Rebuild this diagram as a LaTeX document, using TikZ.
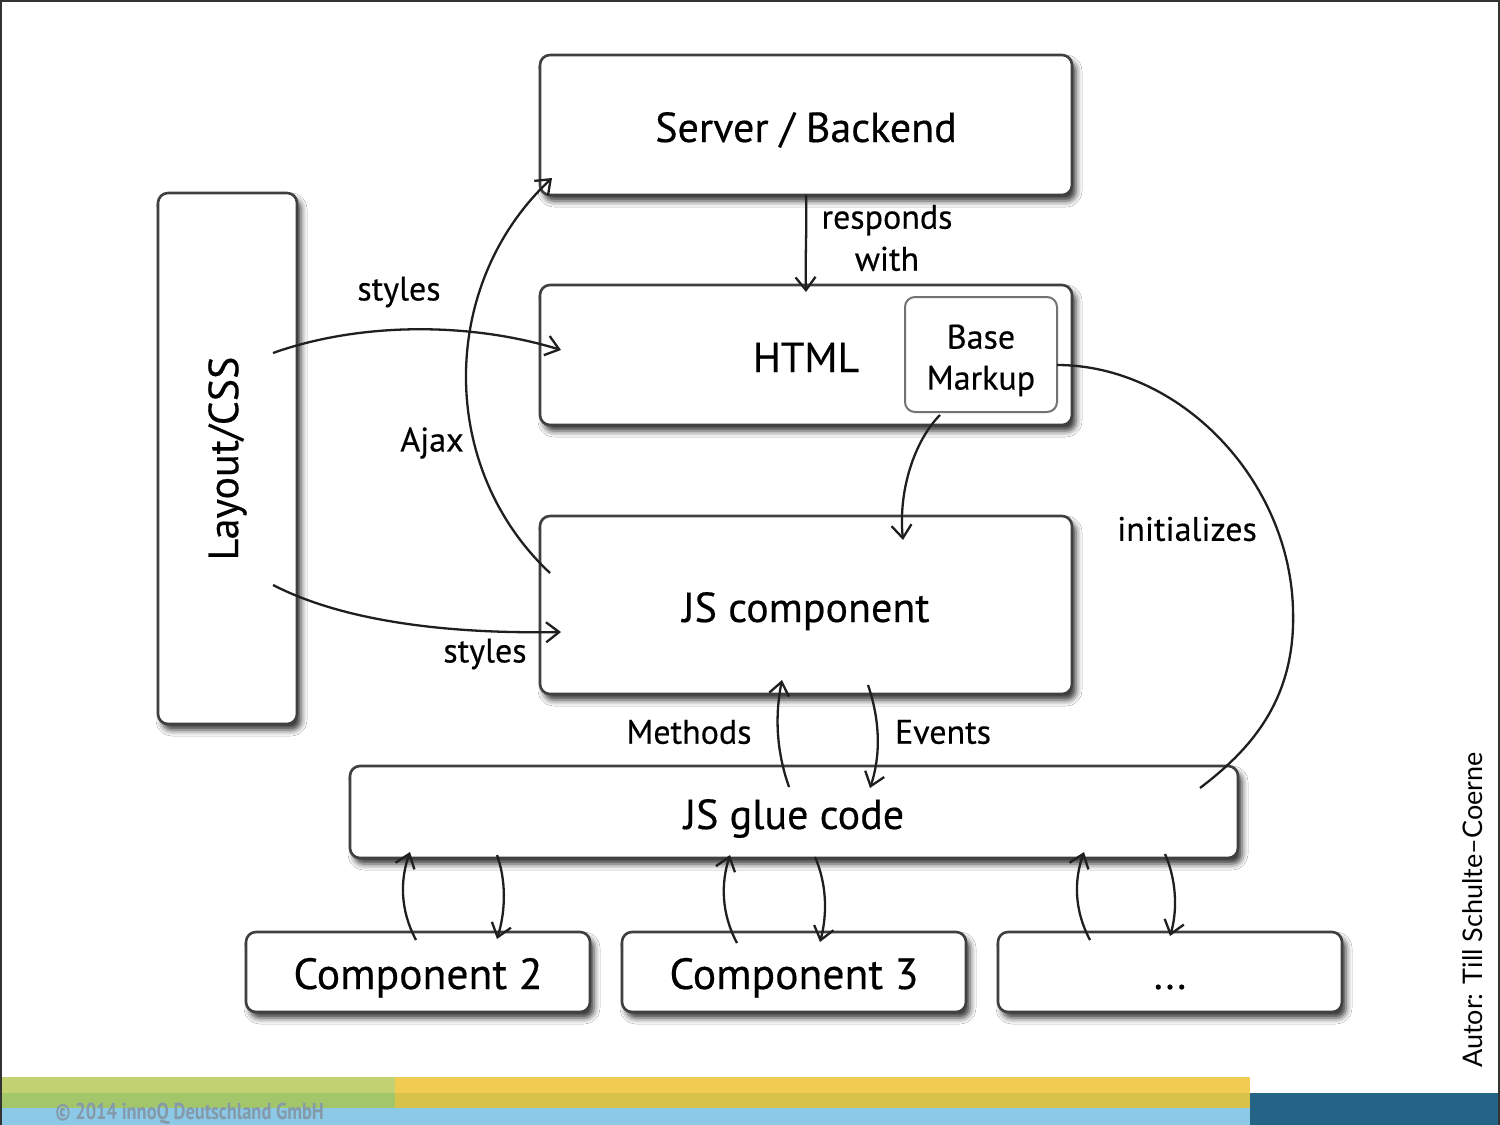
\documentclass[tikz,border=0pt]{standalone}
\usepackage{fontspec}
\setmainfont{PT Sans}[FakeBold=0.4]
\newfontfamily\authfont{Lato}
\newfontfamily\footfont[FakeStretch=0.8]{PT Sans}
\usetikzlibrary{arrows.meta,shadows.blur}
\definecolor{gtop}{HTML}{C2D273}
\definecolor{glow}{HTML}{A3C66B}
\definecolor{ytop}{HTML}{F0CD52}
\definecolor{ylow}{HTML}{D8C24A}
\definecolor{lblue}{HTML}{8CC9E6}
\definecolor{dblue}{HTML}{246486}
\definecolor{foot}{HTML}{8499AA}
\begin{document}
\begin{tikzpicture}[x=0.5pt,y=-0.5pt,
  box/.style={draw=black!75, line width=1.3pt, rounded corners=5pt, fill=white,
    blur shadow={shadow xshift=2pt, shadow yshift=-3pt, shadow blur radius=3pt, shadow opacity=80},
    inner sep=0pt, text height=19pt, text depth=2pt, font=\fontsize{21}{24}\selectfont},
  innerbox/.style={draw=black!55, line width=1pt, rounded corners=5pt, fill=white,
    inner sep=0pt, align=center, font=\fontsize{17}{20.5}\selectfont},
  lbl/.style={font=\fontsize{17}{21}\selectfont, inner sep=0pt, align=center},
  conn/.style={draw=black!88, line width=1.15pt, -{Straight Barb[length=6.5pt,width=10pt]}},
  plain/.style={draw=black!88, line width=1.15pt}]
\useasboundingbox (0,0) rectangle (1500,1125);
\fill[white] (0,0) rectangle (1500,1125);

% boxes
\node[box, minimum width=266pt, minimum height=70pt] (server) at (806,125) {Server / Backend};
\node[box, minimum width=266pt, minimum height=70pt] (html) at (806,355) {HTML};
\node[innerbox, minimum width=76pt, minimum height=57.5pt] (base) at (981,354.5) {\rule{0pt}{18pt}Base\\Markup};
\node[box, minimum width=266pt, minimum height=89pt] (jscomp) at (806,605) {JS component};
\node[box, minimum width=69.5pt, minimum height=265.5pt] (layout) at (227.5,458.5) {};
\node[rotate=90, font=\fontsize{21}{24}\selectfont, inner sep=0pt] (layouttext) at (layout.center) {Layout/CSS};
\node[box, minimum width=444pt, minimum height=46pt] (glue) at (794,812) {JS glue code};
\node[box, minimum width=172pt, minimum height=40pt, font=\fontsize{21.8}{24}\selectfont] (comp2) at (418,972) {Component 2};
\node[box, minimum width=172pt, minimum height=40pt, font=\fontsize{21.8}{24}\selectfont] (comp3) at (794,972) {Component 3};
\node[box, minimum width=172pt, minimum height=40pt] (dots) at (1170,972) {...};

% endpoints
\coordinate (rs) at (806,195);
\coordinate (re) at (806,292);
\coordinate (s1a) at (273,353);
\coordinate (s1b) at (561,350);
\coordinate (s2a) at (273,585);
\coordinate (s2b) at (561,632);
\coordinate (aja) at (550,573);
\coordinate (ajb) at (552,178);
\coordinate (bma) at (940,415);
\coordinate (bmb) at (903,540);
\coordinate (ina) at (1057,365);
\coordinate (inb) at (1200,788);
\coordinate (ma) at (789,787);
\coordinate (mb) at (782,680);
\coordinate (ea) at (868,685);
\coordinate (eb) at (870,788);

% connectors
\draw[conn] (rs) .. controls (807,230) and (805,260) .. (re);
\draw[conn] (s1a) .. controls (360,322) and (470,322) .. (s1b);
\draw[conn] (s2a) .. controls (345,622) and (450,634) .. (s2b);
\draw[conn] (aja) .. controls (437,467) and (439,284) .. (ajb);
\draw[conn] (bma) .. controls (915,440) and (898,490) .. (bmb);
\draw[plain] (ina) .. controls (1180,365) and (1290,480) .. (1293,610)
   .. controls (1296,700) and (1250,750) .. (inb);
\draw[conn] (ma) .. controls (776,750) and (775,715) .. (mb);
\draw[conn] (ea) .. controls (880,720) and (881,755) .. (eb);

% glue <-> components
\coordinate (c2ua) at (416,940); \coordinate (c2ub) at (410,852);
\coordinate (c2da) at (497,855); \coordinate (c2db) at (497,939);
\coordinate (c3ua) at (737,943); \coordinate (c3ub) at (730,855);
\coordinate (c3da) at (815,857); \coordinate (c3db) at (820,942);
\coordinate (c4ua) at (1090,940); \coordinate (c4ub) at (1084,852);
\coordinate (c4da) at (1165,854); \coordinate (c4db) at (1170,936);
\draw[conn] (c2ua) .. controls (400,910) and (400,880) .. (c2ub);
\draw[conn] (c2da) .. controls (506,880) and (506,910) .. (c2db);
\draw[conn] (c3ua) .. controls (721,913) and (721,883) .. (c3ub);
\draw[conn] (c3da) .. controls (826,882) and (828,912) .. (c3db);
\draw[conn] (c4ua) .. controls (1074,910) and (1074,880) .. (c4ub);
\draw[conn] (c4da) .. controls (1176,879) and (1178,909) .. (c4db);

% labels
\node[lbl] (lresp) at (887,238) {responds\\with};
\node[lbl] (lst1) at (399,292) {styles};
\node[lbl] (lst2) at (485,654) {styles};
\node[lbl] (lajax) at (432,443) {Ajax};
\node[lbl] (linit) at (1187,529) {initializes};
\node[lbl] (lmeth) at (689,732) {Methods};
\node[lbl] (lev) at (943,732) {Events};

% author
\node[rotate=90, font=\authfont\fontsize{13.5}{16}\selectfont, inner sep=0pt] (author) at (1473,910) {Autor: Till Schulte–Coerne};

% footer
\fill[gtop] (0,1077) rectangle (395,1093);
\fill[glow] (0,1093) rectangle (395,1108);
\fill[ytop] (395,1077) rectangle (1250,1093);
\fill[ylow] (395,1093) rectangle (1250,1108);
\fill[lblue] (0,1108) rectangle (1250,1125);
\fill[dblue] (1250,1093) rectangle (1500,1125);
\node[anchor=west, text=foot, font=\footfont\bfseries\fontsize{11.5}{12}\selectfont, inner sep=0pt] (copy) at (55,1114) {© 2014 innoQ Deutschland GmbH};

% frame
\draw[black!80, line width=1pt] (1,1125) -- (1,1) -- (1499,1) -- (1499,1125);
\end{tikzpicture}
\end{document}
